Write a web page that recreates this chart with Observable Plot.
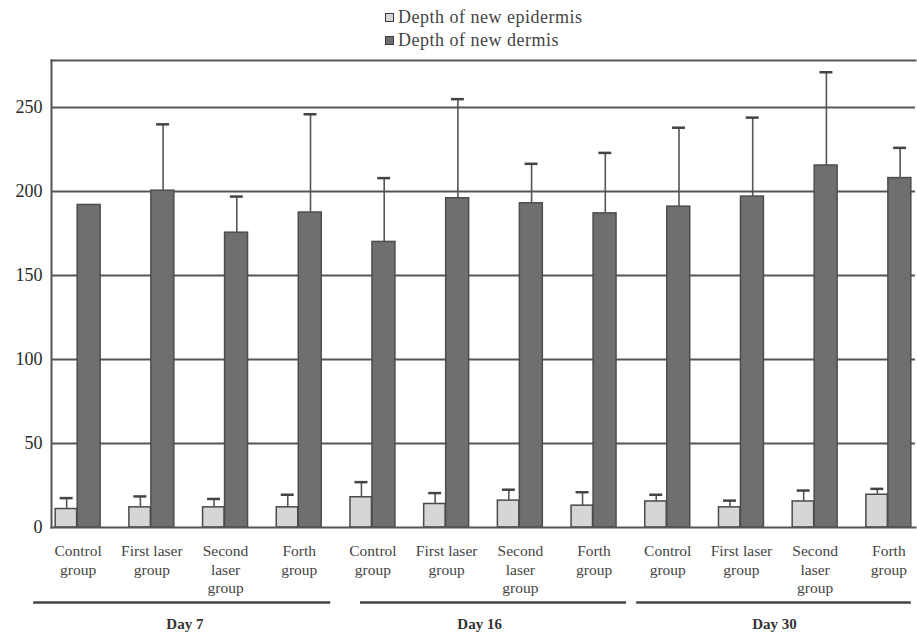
<!DOCTYPE html>
<html><head><meta charset="utf-8">
<script src="https://cdn.jsdelivr.net/npm/d3@7"></script>
<script src="https://cdn.jsdelivr.net/npm/@observablehq/plot@0.6"></script>
<style>
body{margin:0;background:#fff;font-family:"Liberation Serif",serif;}
#wrap{width:917px;height:638px;overflow:hidden;}
#legend{height:55px;position:relative;}
.item{position:absolute;left:385px;height:20px;display:flex;align-items:center;font-size:18px;color:#444;letter-spacing:0.5px;white-space:nowrap;}
.sw{width:7px;height:7px;border:1.5px solid #3a3a3a;margin-right:4px;}
</style></head><body>
<div id="wrap"><div id="legend"></div><div id="chart"></div></div>
<script>
const days = ["Day 7", "Day 16", "Day 30"];
const groups = ["Control group", "First laser group", "Second laser group", "Forth group"];
const groupLabels = ["Control\ngroup", "First laser\ngroup", "Second\nlaser\ngroup", "Forth\ngroup"];
const seriesNames = ["Depth of new epidermis", "Depth of new dermis"];
const seriesColors = ["#d6d6d6", "#6f6f6f"];
const yTicks = [0, 50, 100, 150, 200, 250];

// values per day (Day 7, Day 16, Day 30) x group
const epidermis   = [11, 12, 12, 12,   18, 14, 16, 13,   15.5, 12, 15.5, 19.5];
const epidermisSD = [6.5, 6.5, 5, 7.5, 9, 6.5, 6.5, 8,   4, 4, 6.5, 3.5];
const dermis      = [192, 200.5, 175.5, 187.5,  170, 196, 193, 187,  191, 197, 215.5, 208];
const dermisSD    = [0, 39.5, 21.5, 58.5,  38, 59, 23.5, 36,  47, 47, 55.5, 18];

const table = [];
days.forEach((day, di) => groups.forEach((g, gi) => {
  const i = di * 4 + gi;
  table.push({key: day + "|" + g, day, group: g, label: groupLabels[gi],
    epi: epidermis[i], epiSD: epidermisSD[i], der: dermis[i], derSD: dermisSD[i]});
}));
const keys = table.map(d => d.key);
const labelOf = new Map(table.map(d => [d.key, d.label]));
const brackets = days.map((day, di) => ({day, first: keys[di * 4], last: keys[di * 4 + 3], mid: keys[di * 4 + 1]}));

// legend
const legend = document.getElementById("legend");
seriesNames.forEach((name, i) => {
  const item = document.createElement("div");
  item.className = "item";
  item.style.top = (7 + i * 23) + "px";
  const sw = document.createElement("span");
  sw.className = "sw";
  sw.style.background = seriesColors[i];
  item.appendChild(sw);
  item.appendChild(document.createTextNode(name));
  legend.appendChild(item);
});

const FONT = "Liberation Serif, Times New Roman, DejaVu Serif, serif";
const gridColor = "#555";
const chart = Plot.plot({
  width: 917, height: 583,
  marginTop: 5, marginBottom: 111, marginLeft: 51, marginRight: 2,
  style: "font-family: 'Liberation Serif', serif; background: #fff;",
  x: {domain: keys, paddingInner: 0.39, paddingOuter: 0.0566, round: false},
  y: {domain: [0, 278]},
  marks: [
    Plot.ruleY(yTicks.filter(v => v > 0), {stroke: gridColor, strokeWidth: 2}),
    Plot.frame({anchor: "top", stroke: gridColor, strokeWidth: 2}),
    Plot.frame({anchor: "left", stroke: gridColor, strokeWidth: 2}),
    Plot.barY(table, {x: "key", y: "epi", fill: seriesColors[0], stroke: "#4a4a4a", strokeWidth: 1.5, insetRight: 23.5}),
    Plot.barY(table, {x: "key", y: "der", fill: seriesColors[1], stroke: "#4d4d4d", strokeWidth: 1.5, insetLeft: 22}),
    Plot.ruleX(table, {x: "key", y1: "epi", y2: d => d.epi + d.epiSD, dx: -11.5, stroke: "#555", strokeWidth: 1.6}),
    Plot.tickY(table, {x: "key", y: d => d.epi + d.epiSD, dx: -11.5, insetLeft: 16, insetRight: 16, stroke: "#444", strokeWidth: 2.5}),
    Plot.ruleX(table.filter(d => d.derSD > 0), {x: "key", y1: "der", y2: d => d.der + d.derSD, dx: 11.25, stroke: "#555", strokeWidth: 1.6}),
    Plot.tickY(table.filter(d => d.derSD > 0), {x: "key", y: d => d.der + d.derSD, dx: 11.25, insetLeft: 16, insetRight: 16, stroke: "#444", strokeWidth: 2.5}),
    Plot.frame({anchor: "bottom", stroke: gridColor, strokeWidth: 2}),
    Plot.axisY({ticks: yTicks, tickSize: 0, tickPadding: 9, fontSize: 18, fill: "#2a2a2a", label: null}),
    Plot.axisX({tickSize: 0, tickPadding: 16, tickFormat: k => labelOf.get(k), fontSize: 15.5, lineHeight: 1.17, fill: "#444", label: null}),
    Plot.ruleY([brackets[0]], {x1: "first", x2: "last", y: 0, dy: 75, insetLeft: -22, insetRight: -9, stroke: "#444", strokeWidth: 2.5}),
    Plot.ruleY([brackets[1]], {x1: "first", x2: "last", y: 0, dy: 75, insetLeft: 10, insetRight: -10, stroke: "#444", strokeWidth: 2.5}),
    Plot.ruleY([brackets[2]], {x1: "first", x2: "last", y: 0, dy: 75, insetLeft: -8.6, insetRight: 0, stroke: "#444", strokeWidth: 2.5}),
    Plot.text(brackets, {x: "mid", y: 0, dx: 33, dy: 97, text: "day", fontWeight: "bold", fontSize: 15, fill: "#333"})
  ]
});
// remove Plot's default sans-serif font rule and force serif on text
chart.querySelectorAll("style").forEach(s => { s.textContent = s.textContent.replace(/font-family:[^;}]*/g, "font-family: 'Liberation Serif', serif").replace(/font:\s*([^;}]*?)system-ui,\s*sans-serif/g, "font: $1'Liberation Serif', serif"); });
chart.setAttribute("font-family", FONT);
chart.querySelectorAll("g, text, tspan").forEach(el => el.setAttribute("font-family", FONT));
document.getElementById("chart").appendChild(chart);
</script></body></html>
